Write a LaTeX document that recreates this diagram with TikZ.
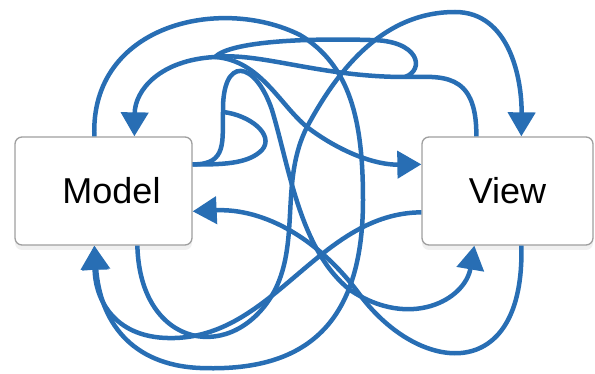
\documentclass[tikz,border=0pt]{standalone}
\usepackage{fontspec}
\setsansfont{Liberation Sans}
\usetikzlibrary{arrows.meta}
\usetikzlibrary{shadows}
\definecolor{loopblue}{RGB}{40,110,180}

\begin{document}
\begin{tikzpicture}[x=1pt,y=-1pt]
\tikzstyle{bloc}=[rectangle,draw=gray!75,line width=1.3pt,rounded corners=7pt,
fill=white,inner sep=0pt,font=\sffamily\fontsize{36}{40}\selectfont,
drop shadow={opacity=0.12,shadow xshift=0pt,shadow yshift=-5pt}]
%style des fleches
\tikzstyle{boucle}=[->,>={Triangle[length=24pt,width=27pt]},draw=loopblue,line width=4.5pt]
\tikzstyle{brin}=[draw=loopblue,line width=4.5pt]
\useasboundingbox (0,0) rectangle (595,374);
%placement des noeuds
\node[bloc,minimum width=177pt,minimum height=108pt] (model) at (103.5,191) {\hspace{16pt}Model};
\node[bloc,minimum width=171pt,minimum height=108pt] (view) at (507.5,191) {View};
\coordinate (fourche) at (405,77);
\coordinate (noeud) at (215,57);
\coordinate (pli) at (223,112);
%placement des fleches
\draw[boucle] ([xshift=80pt]model.north west) .. controls (90,25) and (220,-5) .. (300,35)
  .. controls (350,65) and (363,120) .. (363,200) .. controls (363,330) and (300,372) .. (200,368)
  .. controls (130,365) and (100,320) .. ([xshift=80pt]model.south west);
\draw[boucle] ([xshift=55pt]view.north west) .. controls (477,70) and (440,77) .. (fourche)
  .. controls (320,77) and (260,52) .. (noeud) .. controls (160,60) and (135,90) .. ([xshift=120pt]model.north west);
\draw[boucle] ([xshift=123pt]model.south west) .. controls (140,350) and (235,365) .. (275,290)
  .. controls (300,240) and (280,180) .. (307,127) .. controls (335,75) and (380,12) .. (455,12)
  .. controls (510,12) and (522,80) .. ([xshift=100pt]view.north west);
\draw[boucle] ([yshift=-28pt]model.north east) .. controls (228,165) and (222,140) .. (pli)
  .. controls (222,55) and (255,60) .. (272,110) .. controls (290,170) and (300,250) .. (350,290)
  .. controls (410,330) and (465,300) .. ([xshift=53pt]view.south west);
\draw[boucle] (noeud) .. controls (260,60) and (280,105) .. (307,127)
  .. controls (340,152) and (375,165) .. ([yshift=-28pt]view.north west);
\draw[boucle] ([xshift=100pt]view.south west) .. controls (525,385) and (420,375) .. (360,295)
  .. controls (320,240) and (265,208) .. ([yshift=-75pt]model.north east);
\draw[boucle] ([yshift=-76pt]view.north west) .. controls (320,213) and (275,335) .. (175,338)
  .. controls (115,340) and (95,300) .. ([xshift=80pt]model.south west);
\draw[brin] (fourche) .. controls (425,70) and (420,40) .. (370,40) .. controls (300,38) and (230,42) .. (noeud);
\draw[brin] (pli) .. controls (250,115) and (275,135) .. (262,150) .. controls (250,162) and (230,165) .. ([yshift=-28pt]model.north east);
\end{tikzpicture}
\end{document}
